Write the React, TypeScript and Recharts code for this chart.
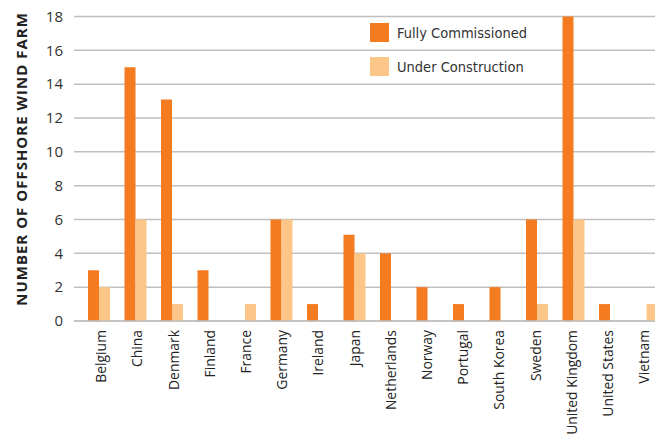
import React from 'react';
import { BarChart, Bar, XAxis, YAxis, CartesianGrid } from 'recharts';

const countries = ['Belgium','China','Denmark','Finland','France','Germany','Ireland','Japan','Netherlands','Norway','Portugal','South Korea','Sweden','United Kingdom','United States','Vietnam'];
const fullyCommissioned = [3,15,13.1,3,0,6,1,5.1,4,2,1,2,6,18,1,0];
const underConstruction = [2,6,1,0,1,6,0,4,0,0,0,0,1,6,0,1];
const yTicks = [0,2,4,6,8,10,12,14,16,18];
const seriesNames = ['Fully Commissioned', 'Under Construction'];

const data = countries.map((c, i) => ({ name: c, fc: fullyCommissioned[i], uc: underConstruction[i] }));

const ORANGE = '#F47B20';
const LIGHT = '#FDC689';
const FONT = '"Open Sans", sans-serif';
const LEGEND_FONT = '"DejaVu Sans Condensed", "DejaVu Sans", sans-serif';

const XTick = (props: any) => {
  const { x, y, payload, index } = props;
  const i = typeof index === 'number' ? index : 0;
  const tx = x + 1.5 - 0.3 * i;
  return (
    <text x={tx} y={y} transform={`rotate(-90, ${tx}, ${y})`} textAnchor="end" dominantBaseline="central"
      fontFamily={FONT} fontSize={13.9} fill="#222">{payload.value}</text>
  );
};

const YLabel = () => {
  const cx = 21;
  const cy = 159;
  return (
    <text x={cx} y={cy} transform={`rotate(-90, ${cx}, ${cy})`} textAnchor="middle" dominantBaseline="central"
      fontFamily={FONT} fontSize={15} fontWeight="bold" fill="#222" letterSpacing={1}>
      NUMBER OF OFFSHORE WIND FARM
    </text>
  );
};

export default function App() {
  return (
    <div style={{ position: 'absolute', left: 0, top: 0, width: 655, height: 437, overflow: 'hidden', background: '#fff' }}>
      <BarChart width={665} height={437} data={data} margin={{ top: 16.5, right: 0, bottom: 0, left: 0 }}
        barGap={0} barSize={11}>
        <CartesianGrid vertical={false} stroke="#bfbfbf" strokeWidth={1.5} />
        <XAxis dataKey="name" interval={0} height={116} tick={<XTick />} tickLine={false}
          axisLine={{ stroke: '#bfbfbf', strokeWidth: 1.5 }} padding={{ left: 7, right: 0 }} tickMargin={3} />
        <YAxis width={74} domain={[0, 18]} ticks={yTicks} tickLine={false} axisLine={false} tickMargin={5}
          tick={{ fontFamily: FONT, fontSize: 15, fill: '#333' }} label={<YLabel />} />
        <Bar dataKey="fc" name={seriesNames[0]} fill={ORANGE} isAnimationActive={false} />
        <Bar dataKey="uc" name={seriesNames[1]} fill={LIGHT} isAnimationActive={false} />
      </BarChart>
      <div style={{ position: 'absolute', left: 370, top: 23, fontFamily: LEGEND_FONT, fontStretch: 'condensed', fontSize: 14.5, color: '#333' }}>
        <div style={{ display: 'flex', alignItems: 'center', height: 19, marginBottom: 15 }}>
          <div style={{ width: 19, height: 19, background: ORANGE, marginRight: 8 }} />
          <span>{seriesNames[0]}</span>
        </div>
        <div style={{ display: 'flex', alignItems: 'center', height: 19 }}>
          <div style={{ width: 19, height: 19, background: LIGHT, marginRight: 8 }} />
          <span>{seriesNames[1]}</span>
        </div>
      </div>
    </div>
  );
}
